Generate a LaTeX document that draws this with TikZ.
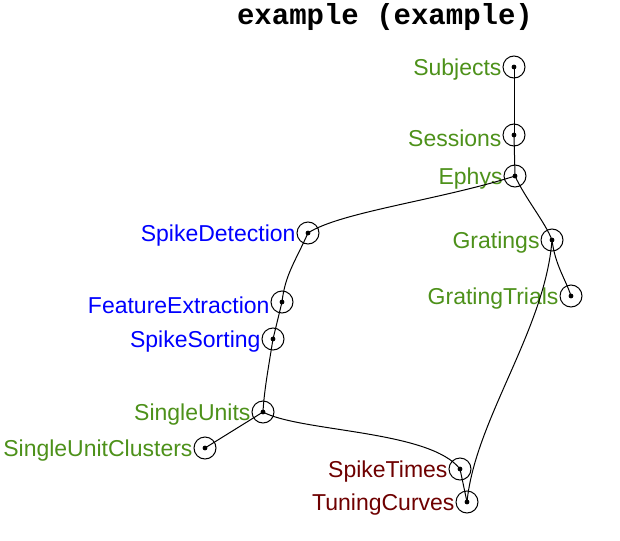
\documentclass[tikz,border=0pt]{standalone}
\usepackage{fontspec}
\setmainfont{Liberation Sans}
\newfontfamily\titlefont{Liberation Mono}
\usepackage{tikz}
\usetikzlibrary{positioning}
\definecolor{manualgreen}{RGB}{77,145,26}
\definecolor{importblue}{RGB}{0,0,255}
\definecolor{computered}{RGB}{110,0,0}
\tikzset{
  tbl/.style={circle, draw=black, minimum size=11pt, inner sep=0pt, line width=0.5pt},
  manual/.style={tbl, label={[text=manualgreen, font=\fontsize{11.5}{13}\selectfont, inner sep=0.3pt, yshift=-1.5pt]left:#1}},
  imported/.style={tbl, label={[text=importblue, font=\fontsize{11.5}{13}\selectfont, inner sep=0.3pt, yshift=-1.5pt]left:#1}},
  computed/.style={tbl, label={[text=computered, font=\fontsize{11.5}{13}\selectfont, inner sep=0.3pt, yshift=-1.5pt]left:#1}},
  edge/.style={line width=0.5pt, color=black}
}

\begin{document}
\begin{tikzpicture}[x=0.5pt, y=-0.5pt]
  \useasboundingbox (0,0) rectangle (620,540);

  % Title
  \node[font=\titlefont\bfseries\fontsize{14.5}{16}\selectfont] (title) at (385,17) {example (example)};

  % Tables
  \node[manual=Subjects] (subj) at (514,67) {};
  \node[manual=Sessions] (sess) at (514,135) {};
  \node[manual=Ephys] (ephys) at (515,176) {};
  \node[imported=SpikeDetection] (sdet) at (308,233) {};
  \node[manual=Gratings] (grat) at (552,240) {};
  \node[manual=GratingTrials] (gtri) at (571,296) {};
  \node[imported=FeatureExtraction] (fext) at (282,302) {};
  \node[imported=SpikeSorting] (ssort) at (273,339) {};
  \node[manual=SingleUnits] (sunit) at (263,412) {};
  \node[manual=SingleUnitClusters] (sclus) at (205,448) {};
  \node[computed=SpikeTimes] (stime) at (460,469) {};
  \node[computed=TuningCurves] (tcurv) at (467,502) {};

  % Dots
  \foreach \n in {subj,sess,ephys,sdet,grat,gtri,fext,ssort,sunit,sclus,stime,tcurv}
    \fill (\n.center) circle (1.2pt);

  % Dependencies
  \draw[edge] (subj.center) -- (sess.center);
  \draw[edge] (sess.center) -- (ephys.center);
  \draw[edge] (ephys.center) .. controls (440,200) and (340,212) .. (sdet.center);
  \draw[edge] (ephys.center) .. controls (525,198) and (545,222) .. (grat.center);
  \draw[edge] (grat.center) .. controls (555,265) and (566,280) .. (gtri.center);
  \draw[edge] (grat.center) .. controls (545,330) and (475,420) .. (tcurv.center);
  \draw[edge] (sdet.center) .. controls (295,262) and (285,275) .. (fext.center);
  \draw[edge] (fext.center) -- (ssort.center);
  \draw[edge] (ssort.center) .. controls (268,370) and (264,392) .. (sunit.center);
  \draw[edge] (sunit.center) -- (sclus.center);
  \draw[edge] (sunit.center) .. controls (300,432) and (430,430) .. (stime.center);
  \draw[edge] (stime.center) -- (tcurv.center);
\end{tikzpicture}
\end{document}
